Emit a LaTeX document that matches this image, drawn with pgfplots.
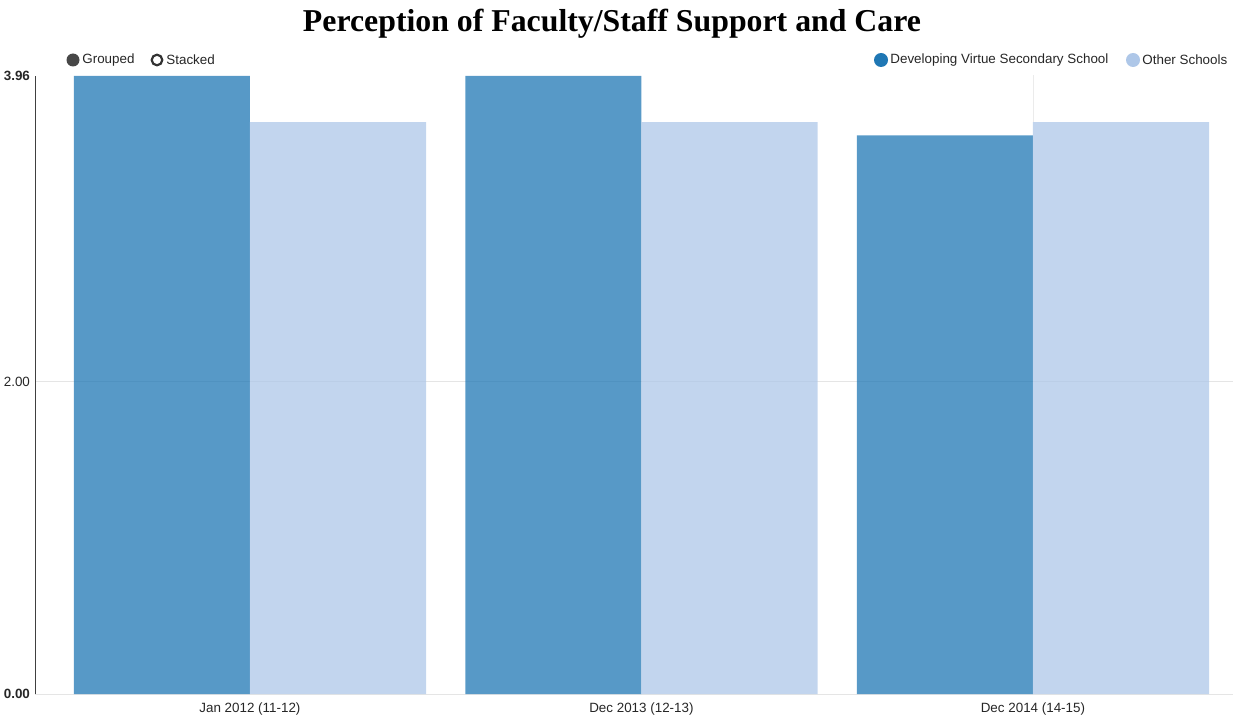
\documentclass[border=0pt]{standalone}
\usepackage{pgfplots}
\pgfplotsset{compat=1.18}
\usepackage{fontspec}
\setmainfont{Liberation Sans}
\newfontfamily\titlefont{Liberation Serif}
\definecolor{cdark}{HTML}{1F77B4}
\definecolor{clight}{HTML}{AEC7E8}
\definecolor{gridc}{HTML}{E5E5E5}
\begin{document}
\begin{tikzpicture}[x=0.5pt,y=0.5pt]
\path[use as bounding box] (0,0) rectangle (1234,719);
% title
\node[anchor=base,inner sep=0pt,font=\titlefont\bfseries\fontsize{15.9pt}{18pt}\selectfont] at (612,719-32) {Perception of Faculty/Staff Support and Care};
% grouped / stacked controls
\fill[black!72] (73,719-60) circle (6.5);
\node[anchor=west,inner sep=0pt,font=\fontsize{6.7pt}{8pt}\selectfont,text=black!85] at (82,719-60) {Grouped};
\draw[black!80,line width=1.1pt] (157,719-60) circle (5.3);
\node[anchor=west,inner sep=0pt,font=\fontsize{6.7pt}{8pt}\selectfont,text=black!85] at (166,719-60) {Stacked};
% legend
\fill[cdark] (881,719-60) circle (7);
\node[anchor=west,inner sep=0pt,font=\fontsize{6.7pt}{8pt}\selectfont,text=black!85] at (890,719-60) {Developing Virtue Secondary School};
\fill[clight] (1133,719-60) circle (7);
\node[anchor=west,inner sep=0pt,font=\fontsize{6.7pt}{8pt}\selectfont,text=black!85] at (1142,719-60) {Other Schools};
\begin{axis}[
  at={(17.5pt,12.5pt)}, anchor=south west,
  scale only axis, width=599pt, height=309pt,
  xmin=-0.549, xmax=2.511, ymin=0, ymax=3.96,
  axis x line*=bottom, axis y line*=left,
  x axis line style={draw=gridc},
  y axis line style={draw=black!75},
  xtick={0,1,2},
  xticklabels={Jan 2012 (11-12),Dec 2013 (12-13),Dec 2014 (14-15)},
  ytick={0,2},
  yticklabels={\textbf{0.00},2.00},
  extra y ticks={3.96},
  extra y tick labels={\textbf{3.96}},
  extra y tick style={grid=none},
  ymajorgrids, grid style={draw=gridc, line width=0.5pt},
  major tick length=0pt,
  tick label style={font=\fontsize{6.7pt}{8pt}\selectfont, text=black!85},
  xticklabel style={yshift=-1pt},
  yticklabel style={xshift=1pt},
  ybar, bar width=0.45,
]
\addplot[fill=cdark, fill opacity=0.75, draw=none, bar shift=-0.225] coordinates {(0,3.96) (1,3.96) (2,3.58)};
\addplot[fill=clight, fill opacity=0.75, draw=none, bar shift=0.225] coordinates {(0,3.665) (1,3.665) (2,3.665)};
\draw[black!8] (axis cs:2,4.03) -- (axis cs:2,3.665);
\end{axis}
\end{tikzpicture}
\end{document}
